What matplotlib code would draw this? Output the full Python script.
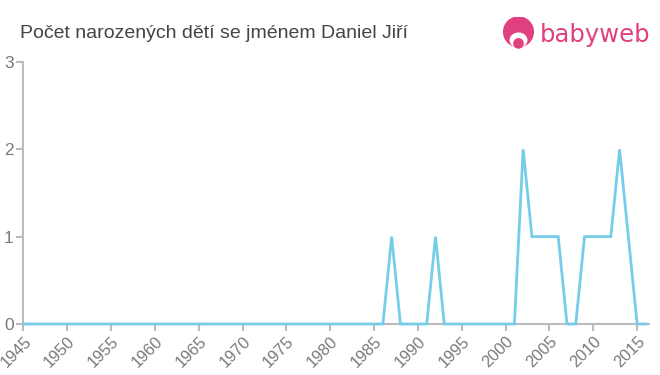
import numpy as np
import matplotlib
matplotlib.use("Agg")
import matplotlib.pyplot as plt
from matplotlib.patches import Circle, Ellipse

plt.rcParams['font.family'] = ['Liberation Sans', 'DejaVu Sans']

title = "Počet narozených dětí se jménem Daniel Jiří"
years = list(range(1945, 2017))
counts = {1987: 1, 1992: 1, 2002: 2, 2003: 1, 2004: 1, 2005: 1, 2006: 1,
          2009: 1, 2010: 1, 2011: 1, 2012: 1, 2013: 2, 2014: 1}
values = [counts.get(y, 0) for y in years]
xticks = list(range(1945, 2016, 5))
yticks = [0, 1, 2, 3]

axis_col = "#bbbbbb"
text_col = "#7a7a7a"
line_col = "#76cde9"
pink = "#e0407f"

fig = plt.figure(figsize=(6.6, 3.75), dpi=100)
fig.patch.set_facecolor('white')
ax = fig.add_axes([0.0356, 0.136, 0.947, 0.699])

ax.plot(years, values, color=line_col, lw=2, solid_joinstyle='miter', clip_on=False, zorder=3)

ax.set_xlim(1945, 2016.3)
ax.set_ylim(0, 3)
ax.set_xticks(xticks)
ax.set_xticklabels([str(t) for t in xticks], rotation=45, ha='right', va='top',
                   rotation_mode='anchor', fontsize=11.8, color=text_col)
ax.set_yticks(yticks)
ax.set_yticklabels([str(t) for t in yticks], fontsize=12.5, color=text_col)
ax.tick_params(axis='x', length=5, width=1.5, color=axis_col, pad=2)
ax.tick_params(axis='y', length=5, width=1.5, color=axis_col, pad=2)
for s in ['top', 'right']:
    ax.spines[s].set_visible(False)
for s in ['left', 'bottom']:
    ax.spines[s].set_color(axis_col)
    ax.spines[s].set_linewidth(1.5)

fig.text(20/660, 1 - 33/375, title, fontsize=14, color="#444444", va='center', ha='left')

# logo
fig.text(540/660, 1 - 35/375, "babyweb", fontsize=17.5, color=pink, va='center', ha='left',
         family='DejaVu Sans')
logo_ax = fig.add_axes([502/660, 1 - 50/375, 33/660, 33/375])
logo_ax.set_xlim(0, 1)
logo_ax.set_ylim(0, 1)
logo_ax.set_aspect('equal')
logo_ax.axis('off')
logo_ax.add_patch(Circle((0.5, 0.55), 0.45, color=pink))
logo_ax.add_patch(Ellipse((0.5, 0.3), 0.5, 0.42, color='white'))
logo_ax.add_patch(Circle((0.5, 0.2), 0.14, color=pink))

fig.savefig("out.png", dpi=100)
